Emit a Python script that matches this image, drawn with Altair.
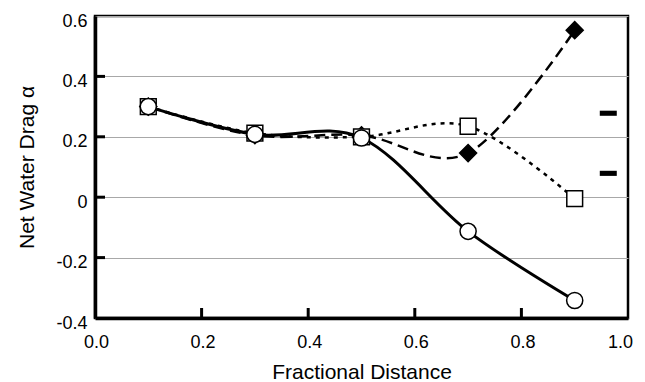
import altair as alt
import pandas as pd

# ---- data ----
x_pos = [0.1, 0.3, 0.5, 0.7, 0.9]
circle_vals = [0.300, 0.208, 0.196, -0.113, -0.342]
square_vals = [0.300, 0.212, 0.200, 0.235, -0.005]
diamond_vals = [0.300, 0.205, 0.205, 0.146, 0.553]
bar_x = [0.963, 0.963]
bar_y = [0.278, 0.079]
x_tick_vals = [0.0, 0.2, 0.4, 0.6, 0.8, 1.0]
y_tick_vals = [-0.4, -0.2, 0.0, 0.2, 0.4, 0.6]
x_inner_ticks = [0.2, 0.4, 0.6, 0.8]
y_inner_ticks = [-0.2, 0.0, 0.2, 0.4]

W, H = 533, 302
FONT = "Liberation Sans"

circ = pd.DataFrame({"x": x_pos, "y": circle_vals})
sq = pd.DataFrame({"x": x_pos, "y": square_vals})
dia = pd.DataFrame({"x": x_pos, "y": diamond_vals})
bars = pd.DataFrame({"x": bar_x, "y": bar_y})
xt = pd.DataFrame({"x": x_inner_ticks})
yt = pd.DataFrame({"y": y_inner_ticks})

xscale = alt.Scale(domain=[0, 1], nice=False, zero=False)
yscale = alt.Scale(domain=[-0.4, 0.6], nice=False, zero=False)

x_axis = alt.Axis(
    values=x_tick_vals, format=".1f", title="Fractional Distance",
    grid=False, ticks=False, domainColor="black", domainWidth=3.5,
    labelFlush=False,
    labelOffset=alt.condition("datum.value == 1", alt.value(-8), alt.value(1)),
    labelFont=FONT, labelFontSize=18, labelColor="black", labelPadding=15,
    titleFont=FONT, titleFontSize=21, titleFontWeight="normal", titleColor="black",
    titlePadding=10,
)
y_axis = alt.Axis(
    values=y_tick_vals, title="Net Water Drag α",
    labelExpr="datum.value == 0 ? '0' : replace(format(datum.value, '.1f'), '\u2212', '-')",
    grid=True, gridColor="#a8a8a8", gridWidth=1,
    ticks=False, domainColor="black", domainWidth=3.5,
    labelFont=FONT, labelFontSize=18, labelColor="black", labelPadding=8,
    labelOffset=5,
    titleFont=FONT, titleFontSize=21, titleFontWeight="normal", titleColor="black",
    titlePadding=18,
)

X = alt.X("x:Q", scale=xscale, axis=x_axis)
Y = alt.Y("y:Q", scale=yscale, axis=y_axis)

ytick_layer = alt.Chart(yt).mark_rule(color="black", strokeWidth=3).encode(
    x=alt.value(0), x2=alt.value(10), y=Y,
)
xtick_layer = alt.Chart(xt).mark_rule(color="black", strokeWidth=3).encode(
    x=X, y=alt.value(H), y2=alt.value(H - 10),
)

def line(df, dash, width):
    kw = dict(color="black", strokeWidth=width, interpolate="cardinal")
    if dash:
        kw["strokeDash"] = dash
    return alt.Chart(df).mark_line(**kw).encode(x=X, y=Y)

def pts(df, shape, filled, size):
    return alt.Chart(df).mark_point(
        shape=shape, filled=True, size=size,
        fill="black" if filled else "white",
        stroke="black", strokeWidth=1.5, opacity=1,
    ).encode(x=X, y=Y)

dia_line = line(dia, [11, 6], 2.5)
sq_line = line(sq, [4, 5], 2.5)
circ_line = line(circ, None, 3)

dia_pts = pts(dia, "diamond", True, 290)
sq_pts = pts(sq, "square", False, 250)
circ_pts = pts(circ, "circle", False, 260)

bar_pts = alt.Chart(bars).mark_point(
    shape="M-1,-0.3L1,-0.3L1,0.3L-1,0.3Z", filled=True, size=289,
    color="black", opacity=1,
).encode(x=X, y=Y)

chart = alt.layer(
    dia_line, sq_line, circ_line,
    dia_pts, sq_pts, circ_pts, bar_pts,
    ytick_layer, xtick_layer,
).properties(
    width=W, height=H,
    autosize=alt.AutoSizeParams(type="none"),
    padding={"left": 87, "top": 8, "right": 9, "bottom": 64},
    background="white",
).configure_view(
    stroke="black", strokeWidth=2.5,
)

chart.save("out.html", embed_options={"renderer": "svg", "actions": False})
